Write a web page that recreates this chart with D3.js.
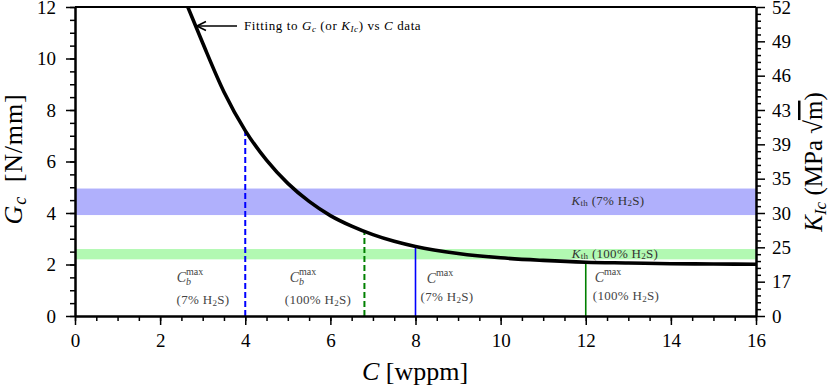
<!DOCTYPE html>
<html>
<head>
<meta charset="utf-8">
<script src="https://cdn.jsdelivr.net/npm/d3@7"></script>
<style>
  body { margin: 0; background: #fff; }
  svg text { font-family: "Liberation Serif", "DejaVu Serif", serif; }
  .axis path, .axis line { stroke: #000; }
</style>
</head>
<body>
<svg id="chart" width="831" height="388"></svg>
<script>
// data
var concC = [2.65, 3.0, 3.5, 4.0, 4.5, 5.0, 5.5, 6.0, 6.5, 7.0, 7.5, 8.0, 9.0, 10, 11, 12, 13, 14, 15, 16];
var fitGc = [12.0, 10.6, 8.7, 7.2, 6.05, 5.15, 4.45, 3.9, 3.49, 3.16, 2.9, 2.7, 2.43, 2.26, 2.16, 2.09, 2.06, 2.03, 2.02, 2.01];

var markerC = [4, 6.8, 8, 12];
var markerGc = [7.2, 3.27, 2.7, 2.09];

var bandLow = [3.92, 2.2];
var bandHigh = [4.95, 2.6];
var bandName = ["7%", "100%"];

var kTickGc = [0, 1.333, 2.667, 4, 5.333, 6.667, 8, 9.333, 10.667, 12];
var kTickLabels = ["0", "17", "25", "30", "35", "39", "43", "46", "49", "52"];

var margin = { top: 7, right: 75, bottom: 72, left: 75 },
    width = 831 - margin.left - margin.right,
    height = 388 - margin.top - margin.bottom;

var svg = d3.select("#chart");
var g = svg.append("g").attr("transform", "translate(" + margin.left + "," + margin.top + ")");

var x = d3.scaleLinear().domain([0, 16]).range([0, width]);
var y = d3.scaleLinear().domain([0, 12]).range([height, 0]);

// bands
g.selectAll("rect.band")
    .data(bandLow)
    .enter()
    .append("rect")
    .attr("class", "band")
    .attr("x", 0)
    .attr("width", width)
    .attr("y", function(d, i) { return y(bandHigh[i]); })
    .attr("height", function(d, i) { return y(d) - y(bandHigh[i]); })
    .style("fill", function(d, i) { return i == 0 ? "#b0b0fc" : "#b2f9b2"; });

// band labels
var bandLabelY = [202, 255];
var bandLabelX = [608, 615];
bandName.forEach(function(n, i) {
  var t = svg.append("text")
      .attr("x", bandLabelX[i]).attr("y", bandLabelY[i])
      .attr("text-anchor", "middle")
      .attr("dominant-baseline", "middle")
      .style("font-size", "13px").style("letter-spacing", "0.3px").style("fill", "#333");
  t.append("tspan").style("font-style", "italic").text("K");
  t.append("tspan").attr("dy", 2).style("font-size", "9px").text("th");
  t.append("tspan").attr("dy", -2).text(" (" + n + " H");
  t.append("tspan").attr("dy", 2).style("font-size", "9px").text("2");
  t.append("tspan").attr("dy", -2).text("S)");
});

// vertical markers
g.selectAll("line.marker")
    .data(markerC)
    .enter()
    .append("line")
    .attr("class", "marker")
    .attr("x1", function(d) { return x(d); })
    .attr("x2", function(d) { return x(d); })
    .attr("y1", y(0))
    .attr("y2", function(d, i) { return y(markerGc[i]); })
    .style("stroke", function(d, i) { return i % 2 == 0 ? "#0000ff" : "#008000"; })
    .style("stroke-width", function(d, i) { return i < 2 ? 2 : 1.6; })
    .style("stroke-dasharray", function(d, i) { return i < 2 ? "6,3" : null; });

// fitted curve
var line = d3.line()
    .x(function(d, i) { return x(concC[i]); })
    .y(function(d) { return y(d); })
    .curve(d3.curveMonotoneX);

g.append("path")
    .datum(fitGc)
    .attr("d", line)
    .style("fill", "none")
    .style("stroke", "#000")
    .style("stroke-width", 3.6);

// marker labels
var mLabX = [190, 303, 440, 608];
var mLabX2 = [203, 318, 447, 626];
var mLabY = [282, 282, 283, 282];
var mLabY2 = [304, 304, 301, 300];
var mSub = ["b", "b", "", ""];
var mName = ["7%", "100%", "7%", "100%"];
markerC.forEach(function(c, i) {
  var t = svg.append("text")
      .attr("x", mLabX[i]).attr("y", mLabY[i])
      .attr("text-anchor", "middle")
      .style("font-size", "14px").style("fill", "#444");
  t.append("tspan").style("font-style", "italic").text("C");
  if (mSub[i]) {
    t.append("tspan").attr("dy", 3).style("font-size", "10px").style("font-style", "italic").text("b");
    t.append("tspan").attr("dx", -5).attr("dy", -10).style("font-size", "10px").text("max");
  } else {
    t.append("tspan").attr("dy", -7).style("font-size", "10px").text("max");
  }
  var t2 = svg.append("text")
      .attr("x", mLabX2[i]).attr("y", mLabY2[i])
      .attr("text-anchor", "middle")
      .style("font-size", "13px").style("letter-spacing", "0.3px").style("fill", "#444");
  t2.append("tspan").text("(" + mName[i] + " H");
  t2.append("tspan").attr("dy", 2).style("font-size", "9px").text("2");
  t2.append("tspan").attr("dy", -2).text("S)");
});

// frame
g.append("line").attr("x1", 0).attr("x2", width).attr("y1", 0).attr("y2", 0)
    .style("stroke", "#000").style("stroke-width", 2);

// axes
function styleAxis(sel) {
  sel.select(".domain").style("stroke-width", 2);
  sel.selectAll(".tick line").style("stroke-width", 1.5);
  sel.selectAll(".tick text").style("font-size", "19px").style("fill", "#000")
     .style("font-family", "'Liberation Serif', serif");
}

var xMinor = d3.range(0, 16.01, 0.5);
g.append("g").attr("class", "axis").attr("transform", "translate(0," + height + ")")
    .call(d3.axisBottom(x).tickValues(xMinor).tickSize(5).tickFormat("").tickSizeOuter(0))
    .call(styleAxis);
g.append("g").attr("class", "axis").attr("transform", "translate(0," + height + ")")
    .call(d3.axisBottom(x).tickValues(d3.range(0, 16.01, 2)).tickSize(9).tickPadding(9).tickSizeOuter(0))
    .call(styleAxis);

var yMinor = d3.range(0, 12.01, 0.5);
g.append("g").attr("class", "axis")
    .call(d3.axisLeft(y).tickValues(yMinor).tickSize(5).tickFormat("").tickSizeOuter(0))
    .call(styleAxis);
g.append("g").attr("class", "axis")
    .call(d3.axisLeft(y).tickValues(d3.range(0, 12.01, 2)).tickSize(9).tickPadding(10).tickSizeOuter(0))
    .call(styleAxis);

var kMinor = [];
for (var i = 0; i < kTickGc.length - 1; i++) {
  for (var j = 1; j < 5; j++) kMinor.push(kTickGc[i] + (kTickGc[i + 1] - kTickGc[i]) * j / 5);
}
g.append("g").attr("class", "axis").attr("transform", "translate(" + width + ",0)")
    .call(d3.axisRight(y).tickValues(kMinor).tickSize(5).tickFormat("").tickSizeOuter(0))
    .call(styleAxis);
g.append("g").attr("class", "axis").attr("transform", "translate(" + width + ",0)")
    .call(d3.axisRight(y).tickValues(kTickGc).tickSize(9).tickPadding(7).tickSizeOuter(0)
      .tickFormat(function(d, i) { return kTickLabels[i]; }))
    .call(styleAxis);

// axis titles
var yl = svg.append("text")
    .attr("transform", "translate(22,159) rotate(-90)")
    .attr("text-anchor", "middle")
    .style("font-size", "26px").style("letter-spacing", "0.8px");
yl.append("tspan").style("font-style", "italic").text("G");
yl.append("tspan").attr("dy", 4).style("font-size", "18px").style("font-style", "italic").text("c");
yl.append("tspan").attr("dy", -4).text("\u2002[N/mm]");

var xl = svg.append("text")
    .attr("x", 415).attr("y", 380)
    .attr("text-anchor", "middle")
    .style("font-size", "26px");
xl.append("tspan").style("font-style", "italic").text("C");
xl.append("tspan").text(" [wppm]");

var kl = svg.append("text")
    .attr("transform", "translate(822,162) rotate(-90)")
    .attr("text-anchor", "middle")
    .style("font-size", "25px");
kl.append("tspan").style("font-style", "italic").text("K");
kl.append("tspan").attr("dy", 4).style("font-size", "17px").style("font-style", "italic").text("Ic");
kl.append("tspan").attr("dy", -4).text(" (MPa \u221A");
kl.append("tspan").style("text-decoration", "overline").text("m");
kl.append("tspan").text(")");

// annotation arrow
svg.append("defs").append("marker")
    .attr("id", "arrow").attr("viewBox", "0 0 10 10")
    .attr("refX", 1).attr("refY", 5)
    .attr("markerWidth", 7).attr("markerHeight", 7)
    .attr("orient", "auto")
    .append("path").attr("d", "M9,1 L1,5 L9,9").style("fill", "none").style("stroke", "#000").style("stroke-width", 1.4);

svg.append("line")
    .attr("x1", 197).attr("y1", 26).attr("x2", 237).attr("y2", 26)
    .style("stroke", "#000").style("stroke-width", 1.6)
    .attr("marker-start", "url(#arrow)");

var ann = svg.append("text").attr("x", 244).attr("y", 30)
    .style("font-size", "13px").style("letter-spacing", "0.6px");
ann.append("tspan").text("Fitting to ");
ann.append("tspan").style("font-style", "italic").text("G");
ann.append("tspan").attr("dy", 2).style("font-size", "9px").style("font-style", "italic").text("c");
ann.append("tspan").attr("dy", -2).text(" (or ");
ann.append("tspan").style("font-style", "italic").text("K");
ann.append("tspan").attr("dy", 2).style("font-size", "9px").style("font-style", "italic").text("Ic");
ann.append("tspan").attr("dy", -2).text(") vs ");
ann.append("tspan").style("font-style", "italic").text("C");
ann.append("tspan").text(" data");
</script>
</body>
</html>
